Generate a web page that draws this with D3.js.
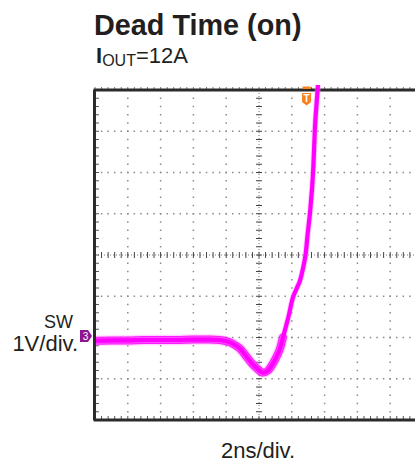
<!DOCTYPE html>
<html><head><meta charset="utf-8">
<script src="https://cdn.jsdelivr.net/npm/d3@7"></script>
<style>
html,body{margin:0;padding:0;background:#fff;}
svg{display:block;}
text{font-family:"Liberation Sans",Arial,Helvetica,sans-serif;fill:#231f20;}
</style></head>
<body>
<script>
// ---- data ----
const title = "Dead Time (on)";
const subtitleMain = "I";
const subtitleSub = "OUT";
const subtitleTail = "=12A";
const yLabelTop = "SW";
const yLabelBottom = "1V/div.";
const xLabel = "2ns/div.";
const channelLabel = "3";
const triggerLabel = "T";
// time in ns (2 ns/div, centre = 0), voltage in V (1 V/div, ground = 0)
const traceTime = [-10, -9, -8, -7, -6, -5, -4, -3.6, -3, -2.4, -2.0, -1.6, -1.16, -0.73, -0.43, -0.12, 0.24, 0.55, 0.85, 1.10, 1.28, 1.46, 1.59, 1.77, 2.07, 2.32, 2.50, 2.68, 2.85, 2.97, 3.11, 3.31, 3.41, 3.58, 3.70];
const traceVolt = [-0.08, -0.07, -0.07, -0.06, -0.06, -0.06, -0.05, -0.05, -0.05, -0.06, -0.09, -0.15, -0.27, -0.48, -0.63, -0.75, -0.85, -0.80, -0.63, -0.44, -0.27, 0.0, 0.19, 0.46, 0.97, 1.21, 1.38, 1.67, 2.04, 2.52, 3.03, 4.10, 5.07, 6.04, 6.8];
const noisyUntil = 1.3;   // trace band is wider (noise) before the edge
const triggerTime = 2.9;
const groundVolt = 0;
const timeDomain = [-10, 10];
const voltDomain = [-2, 6];
const divTime = 2, divVolt = 1, minorPerDiv = 5;

(function(){
// ---- layout ----
const W = 415, H = 463;
const pL = 95, pR = 423, pT = 90, pB = 420;

const svg = d3.select("body").append("svg").attr("width", W).attr("height", H);
const x = d3.scaleLinear().domain(timeDomain).range([pL, pR]);
const y = d3.scaleLinear().domain(voltDomain).range([pB, pT]);

const majorT = d3.range(timeDomain[0] + divTime, timeDomain[1] - 0.001, divTime);
const majorV = d3.range(voltDomain[0] + divVolt, voltDomain[1] - 0.001, divVolt);
const minorT = d3.range(0, (timeDomain[1]-timeDomain[0])*minorPerDiv/divTime + 1).map(i => timeDomain[0] + i*divTime/minorPerDiv);
const minorV = d3.range(0, (voltDomain[1]-voltDomain[0])*minorPerDiv/divVolt + 1).map(i => voltDomain[0] + i*divVolt/minorPerDiv);
const cT = (timeDomain[0]+timeDomain[1])/2, cV = (voltDomain[0]+voltDomain[1])/2;
const near = (a, b) => Math.abs(a-b) < 1e-6;

const grid = svg.append("g");
majorT.filter(t => !near(t, cT)).forEach(t => {
  grid.selectAll(null).data(minorV.slice(1, -1)).enter().append("rect")
    .attr("x", x(t)-0.75).attr("y", d => y(d)-0.75).attr("width", 1.5).attr("height", 1.5).attr("fill", "#8a8a8a");
});
majorV.filter(v => !near(v, cV)).forEach(v => {
  grid.selectAll(null).data(minorT.slice(1, -1)).enter().append("rect")
    .attr("x", d => x(d)-0.75).attr("y", y(v)-0.75).attr("width", 1.5).attr("height", 1.5).attr("fill", "#8a8a8a");
});
grid.append("line").attr("x1", x(cT)).attr("x2", x(cT)).attr("y1", pT).attr("y2", pB)
  .attr("stroke", "#777").attr("stroke-width", 1).attr("stroke-dasharray", "1,2");
grid.append("line").attr("x1", pL).attr("x2", pR).attr("y1", y(cV)).attr("y2", y(cV))
  .attr("stroke", "#777").attr("stroke-width", 1).attr("stroke-dasharray", "1,2");
grid.selectAll(null).data(minorV).enter().append("line")
  .attr("x1", x(cT)-3).attr("x2", x(cT)+3).attr("y1", d => y(d)).attr("y2", d => y(d))
  .attr("stroke", "#444").attr("stroke-width", 1);
grid.selectAll(null).data(minorT).enter().append("line")
  .attr("y1", y(cV)-3).attr("y2", y(cV)+3).attr("x1", d => x(d)).attr("x2", d => x(d))
  .attr("stroke", "#444").attr("stroke-width", 1);
grid.selectAll(null).data(minorT).enter().append("line")
  .attr("x1", d => x(d)).attr("x2", d => x(d)).attr("y1", pB-4).attr("y2", pB)
  .attr("stroke", "#555").attr("stroke-width", 1);
grid.selectAll(null).data(minorT).enter().append("line")
  .attr("x1", d => x(d)).attr("x2", d => x(d)).attr("y1", pT-3).attr("y2", pT)
  .attr("stroke", "#777").attr("stroke-width", 1);
grid.selectAll(null).data(minorV).enter().append("line")
  .attr("x1", pL).attr("x2", pL+4).attr("y1", d => y(d)).attr("y2", d => y(d))
  .attr("stroke", "#555").attr("stroke-width", 1);

svg.append("line").attr("x1", pL-1.5).attr("x2", pR).attr("y1", pT).attr("y2", pT).attr("stroke", "#2b2b2b").attr("stroke-width", 3);
svg.append("line").attr("x1", pL-1.5).attr("x2", pR).attr("y1", pB).attr("y2", pB).attr("stroke", "#2b2b2b").attr("stroke-width", 3);
svg.append("line").attr("x1", pL-0.5).attr("x2", pL-0.5).attr("y1", pT).attr("y2", pB).attr("stroke", "#2b2b2b").attr("stroke-width", 3);

// trace
svg.append("clipPath").attr("id", "clip").append("rect")
  .attr("x", pL+1).attr("y", pT-5).attr("width", pR-pL).attr("height", pB-pT+5);
const pts = traceTime.map((t, i) => [t, traceVolt[i]]);
const line = d3.line().x(d => x(d[0])).y(d => y(d[1])).curve(d3.curveMonotoneX);
const tg = svg.append("g").attr("clip-path", "url(#clip)");
const early = pts.filter(d => d[0] <= noisyUntil + 0.2);
tg.append("path").attr("d", line(early)).attr("fill", "none")
  .attr("stroke", "#ff80ff").attr("stroke-width", 10.5).attr("stroke-linecap", "round").attr("opacity", 0.35);
tg.append("path").attr("d", line(early)).attr("fill", "none")
  .attr("stroke", "#ff1aff").attr("stroke-width", 8).attr("stroke-linecap", "round");
tg.append("path").attr("d", line(pts)).attr("fill", "none")
  .attr("stroke", "#ff8cff").attr("stroke-width", 6).attr("opacity", 0.45);
tg.append("path").attr("d", line(pts)).attr("fill", "none")
  .attr("stroke", "#ff00ff").attr("stroke-width", 4.2);

// trigger marker
const tx = x(triggerTime);
svg.append("rect").attr("x", tx-4).attr("y", pT-3.5).attr("width", 8).attr("height", 2.5).attr("fill", "#f7821e");
svg.append("path").attr("d", `M${tx-4.5},${pT+3}h9v9l-4.5,3.5l-4.5,-3.5z`).attr("fill", "#f7821e");
svg.append("text").attr("x", tx).attr("y", pT+12).attr("text-anchor", "middle")
  .style("font-size", "10px").style("font-weight", "bold").style("fill", "#fff").text(triggerLabel);

// ground marker
const gy = y(groundVolt) - 1.5;
svg.append("path").attr("d", `M80,${gy-6}h8l4,6l-4,6h-8z`).attr("fill", "#8e168e");
svg.append("text").attr("x", 85.5).attr("y", gy+3.8).attr("text-anchor", "middle")
  .style("font-size", "10px").style("fill", "#fff").text(channelLabel);

// texts
svg.append("text").attr("x", 94).attr("y", 35).style("font-size", "28.8px").style("font-weight", "bold").text(title);
const st = svg.append("text").attr("x", 96).attr("y", 63).style("font-size", "22px");
st.append("tspan").style("font-weight", "bold").text(subtitleMain);
st.append("tspan").attr("dy", 3).style("font-size", "16px").text(subtitleSub);
st.append("tspan").attr("dy", -3).text(subtitleTail);
svg.append("text").attr("x", 73).attr("y", 328).attr("text-anchor", "end").style("font-size", "18px").text(yLabelTop);
svg.append("text").attr("x", 78).attr("y", 351).attr("text-anchor", "end").style("font-size", "22px").text(yLabelBottom);
svg.append("text").attr("x", 258).attr("y", 458).attr("text-anchor", "middle").style("font-size", "22px").text(xLabel);
})();
</script>
</body></html>
